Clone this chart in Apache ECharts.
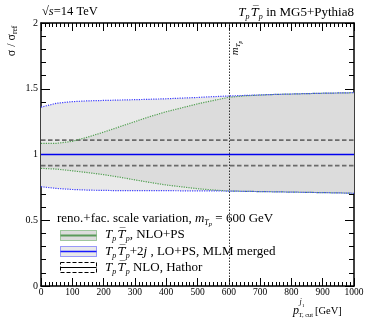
<!DOCTYPE html>
<html>
<head>
<meta charset="utf-8">
<script src="https://cdn.jsdelivr.net/npm/echarts@6/dist/echarts.min.js"></script>
<style>
  html, body { margin: 0; padding: 0; background: #fff; }
  #chart { width: 366px; height: 324px; }
</style>
</head>
<body>
<div id="chart"></div>
<script>
// Jet pT cut values [GeV] at which the scale-variation envelopes are sampled
const ptCut = [0, 50, 100, 150, 200, 250, 300, 350, 400, 450, 500,
               550, 600, 650, 700, 750, 800, 850, 900, 950, 1000];

// TpTp+2j, LO+PS, MLM merged: envelope of sigma/sigma_ref
const mlmUp   = [1.36, 1.39, 1.402, 1.408, 1.411, 1.414, 1.417, 1.42, 1.424, 1.429, 1.434,
                 1.44, 1.445, 1.449, 1.453, 1.457, 1.46, 1.463, 1.466, 1.468, 1.47];
const mlmDown = [0.755, 0.742, 0.734, 0.729, 0.727, 0.725, 0.725, 0.725, 0.725, 0.724, 0.724,
                 0.723, 0.722, 0.72, 0.718, 0.716, 0.714, 0.712, 0.71, 0.708, 0.705];

// TpTp, NLO+PS: envelope of sigma/sigma_ref
const nloPsUp   = [1.085, 1.085, 1.1, 1.133, 1.17, 1.21, 1.25, 1.29, 1.325, 1.355, 1.385,
                   1.41, 1.435, 1.446, 1.452, 1.457, 1.46, 1.463, 1.466, 1.468, 1.47];
const nloPsDown = [0.895, 0.889, 0.876, 0.862, 0.847, 0.828, 0.807, 0.787, 0.768, 0.754, 0.74,
                   0.73, 0.722, 0.72, 0.718, 0.716, 0.714, 0.712, 0.71, 0.708, 0.705];

// TpTp NLO (Hathor): flat scale band
const hathorBand = [0.915, 1.11];
const centralRatio = 1.0;
const mTp = 600;

// Axis ranges and tick steps
const xRange = [0, 1000];
const xStep = 100;
const yRange = [0, 2];
const yStep = 0.5;

const SERIF = 'Liberation Serif';
const GREEN = '#4f9f4f';
const BLUE = '#3c3cff';

const pairs = (ys) => ptCut.map((x, i) => [x, ys[i]]);

function bandRenderer(upper, lower, fill) {
  return function (params, api) {
    const pts = [];
    for (let i = 0; i < ptCut.length; i++) pts.push(api.coord([ptCut[i], upper[i]]));
    for (let i = ptCut.length - 1; i >= 0; i--) pts.push(api.coord([ptCut[i], lower[i]]));
    return { type: 'polygon', shape: { points: pts }, style: { fill: fill, lineWidth: 0 } };
  };
}

function edge(ys, color, z) {
  return {
    type: 'line', data: pairs(ys), symbol: 'none', silent: true, z: z,
    lineStyle: { color: color, width: 1.2, type: [1.2, 1.2] }
  };
}

function flat(y, style, z) {
  return {
    type: 'line', data: [[xRange[0], y], [xRange[1], y]], symbol: 'none', silent: true, z: z,
    lineStyle: style
  };
}

const tickStyle = { color: '#000', width: 1 };

function xAxisDef(pos, showLabels) {
  return {
    type: 'value', position: pos, min: xRange[0], max: xRange[1], interval: xStep,
    axisLine: { show: true, onZero: false, lineStyle: { color: '#000', width: 1.5 } },
    axisTick: { show: true, inside: true, length: 8, lineStyle: tickStyle },
    minorTick: { show: true, splitNumber: 8, length: 4, lineStyle: tickStyle },
    splitLine: { show: false },
    axisLabel: { show: showLabels, margin: 1, color: '#000', fontFamily: SERIF, fontSize: 9.5,
                 formatter: (v) => String(v) }
  };
}

function yAxisDef(pos, showLabels) {
  return {
    type: 'value', position: pos, min: yRange[0], max: yRange[1], interval: yStep,
    axisLine: { show: true, onZero: false, lineStyle: { color: '#000', width: 1.5 } },
    axisTick: { show: true, inside: true, length: 9, lineStyle: tickStyle },
    minorTick: { show: true, splitNumber: 5, length: 5, lineStyle: tickStyle },
    splitLine: { show: false },
    axisLabel: { show: showLabels, margin: 3, color: '#000', fontFamily: SERIF, fontSize: 10,
                 formatter: (v) => String(v) }
  };
}

// Rich-text styles shared by the annotations
function richSet(base) {
  return {
    n:   { fontFamily: SERIF, fontSize: base, fill: '#000' },
    i:   { fontFamily: SERIF, fontSize: base, fontStyle: 'italic', fill: '#000' },
    ob:  { fontFamily: 'DejaVu Serif', fontSize: base * 0.9, fontStyle: 'italic', fill: '#000' },
    sub: { fontFamily: SERIF, fontSize: base * 0.62, fontStyle: 'italic', fill: '#000', padding: [7, 0, 0, 0] },
    ss:  { fontFamily: SERIF, fontSize: base * 0.5, fontStyle: 'italic', fill: '#000', padding: [11, 0, 0, 0] },
    rs:  { fontFamily: SERIF, fontSize: base * 0.62, fill: '#000', padding: [7, 0, 0, 0] }
  };
}

function label(x, y, text, size, align, rotation) {
  return {
    type: 'text', x: x, y: y, rotation: rotation || 0, silent: true, z: 100,
    style: {
      text: text, rich: richSet(size), fontFamily: SERIF, fontSize: size, fill: '#000',
      textAlign: align || 'left', textVerticalAlign: 'middle'
    }
  };
}

const TpTp = '{i|T}{sub|p\u2009}{ob|T\u0305}{sub|p}';

const graphics = [
  // Header lines
  label(42, 12, '{n|\u221A}{i|s}{n|=14 TeV}', 12.5, 'left'),
  label(354, 13, TpTp + '{n| in MG5+Pythia8}', 13, 'right'),
  // Vertical axis title
  label(12, 41, '{n|\u03C3 / \u03C3}{rs|ref}', 12, 'center', Math.PI / 2),
  // Marker label for the Tp mass
  label(235, 48, '{i|m}{sub|T}{ss|p}', 11, 'center', Math.PI / 2),
  // Horizontal axis title
  { type: 'text', x: 293, y: 311, silent: true, z: 100,
    style: { text: 'p', fontFamily: SERIF, fontSize: 12, fontStyle: 'italic', fill: '#000', textVerticalAlign: 'middle' } },
  { type: 'text', x: 299.5, y: 302, silent: true, z: 100,
    style: { text: 'j', fontFamily: SERIF, fontSize: 8, fontStyle: 'italic', fill: '#000', textVerticalAlign: 'middle' } },
  { type: 'text', x: 302, y: 306, silent: true, z: 100,
    style: { text: '1', fontFamily: SERIF, fontSize: 5, fill: '#000', textVerticalAlign: 'middle' } },
  { type: 'text', x: 298.5, y: 315.5, silent: true, z: 100,
    style: { text: 'T, cut', fontFamily: SERIF, fontSize: 6.5, fill: '#000', textVerticalAlign: 'middle' } },
  { type: 'text', x: 315, y: 311, silent: true, z: 100,
    style: { text: '[GeV]', fontFamily: SERIF, fontSize: 10.5, fill: '#000', textVerticalAlign: 'middle' } },

  // Legend header
  label(57, 219, '{n|reno.+fac. scale variation, }{i|m}{sub|T}{ss|p}{n| = 600 GeV}', 13, 'left'),
  // Legend: NLO+PS
  { type: 'rect', shape: { x: 60.5, y: 230.5, width: 36, height: 10 }, silent: true, z: 100,
    style: { fill: '#dcdcdc', stroke: GREEN, lineWidth: 1, lineDash: [1, 1] } },
  { type: 'line', shape: { x1: 60.5, y1: 235.5, x2: 96.5, y2: 235.5 }, silent: true, z: 101,
    style: { stroke: '#5a9a5a', lineWidth: 2 } },
  label(105, 235, TpTp + '{n|, NLO+PS}', 13, 'left'),
  // Legend: LO+PS MLM merged
  { type: 'rect', shape: { x: 60.5, y: 246.5, width: 36, height: 10 }, silent: true, z: 100,
    style: { fill: '#e9e9e9', stroke: BLUE, lineWidth: 1, lineDash: [1, 1] } },
  { type: 'line', shape: { x1: 60.5, y1: 251.5, x2: 96.5, y2: 251.5 }, silent: true, z: 101,
    style: { stroke: '#1a1aff', lineWidth: 1.5 } },
  label(105, 252, TpTp + '{n|+2}{i|j}{n| , LO+PS, MLM merged}', 13, 'left'),
  // Legend: Hathor NLO
  { type: 'rect', shape: { x: 60.5, y: 262.5, width: 36, height: 10 }, silent: true, z: 100,
    style: { fill: '#fff', stroke: '#000', lineWidth: 1, lineDash: [4, 2] } },
  { type: 'line', shape: { x1: 60.5, y1: 267.5, x2: 96.5, y2: 267.5 }, silent: true, z: 101,
    style: { stroke: '#000', lineWidth: 1.2 } },
  label(105, 268, TpTp + '{n| NLO, Hathor}', 13, 'left')
];

const chart = echarts.init(document.getElementById('chart'), null, { renderer: 'canvas' });
chart.setOption({
  animation: false,
  backgroundColor: '#fff',
  grid: { left: 41, right: 12, top: 23, bottom: 38, containLabel: false, outerBoundsMode: 'none' },
  xAxis: [xAxisDef('bottom', true), xAxisDef('top', false)],
  yAxis: [yAxisDef('left', true), yAxisDef('right', false)],
  series: [
    { type: 'custom', renderItem: bandRenderer(mlmUp, mlmDown, '#e9e9e9'), data: [0], z: 1, silent: true },
    { type: 'custom', renderItem: bandRenderer(nloPsUp, nloPsDown, '#dcdcdc'), data: [0], z: 2, silent: true },
    flat(hathorBand[1], { color: '#6a6a6a', width: 1.8, type: [4.5, 2.5] }, 3),
    flat(hathorBand[0], { color: '#6a6a6a', width: 1.8, type: [4.5, 2.5] }, 3),
    edge(nloPsUp, GREEN, 4),
    edge(nloPsDown, GREEN, 4),
    edge(mlmUp, BLUE, 5),
    edge(mlmDown, BLUE, 5),
    Object.assign(flat(centralRatio, { color: '#0000ee', width: 1.5 }, 6), {
      markLine: {
        silent: true, symbol: 'none', label: { show: false },
        lineStyle: { color: '#333', width: 1, type: [1.5, 1.5] },
        data: [{ xAxis: mTp }]
      }
    })
  ],
  graphic: graphics
});
</script>
</body>
</html>
